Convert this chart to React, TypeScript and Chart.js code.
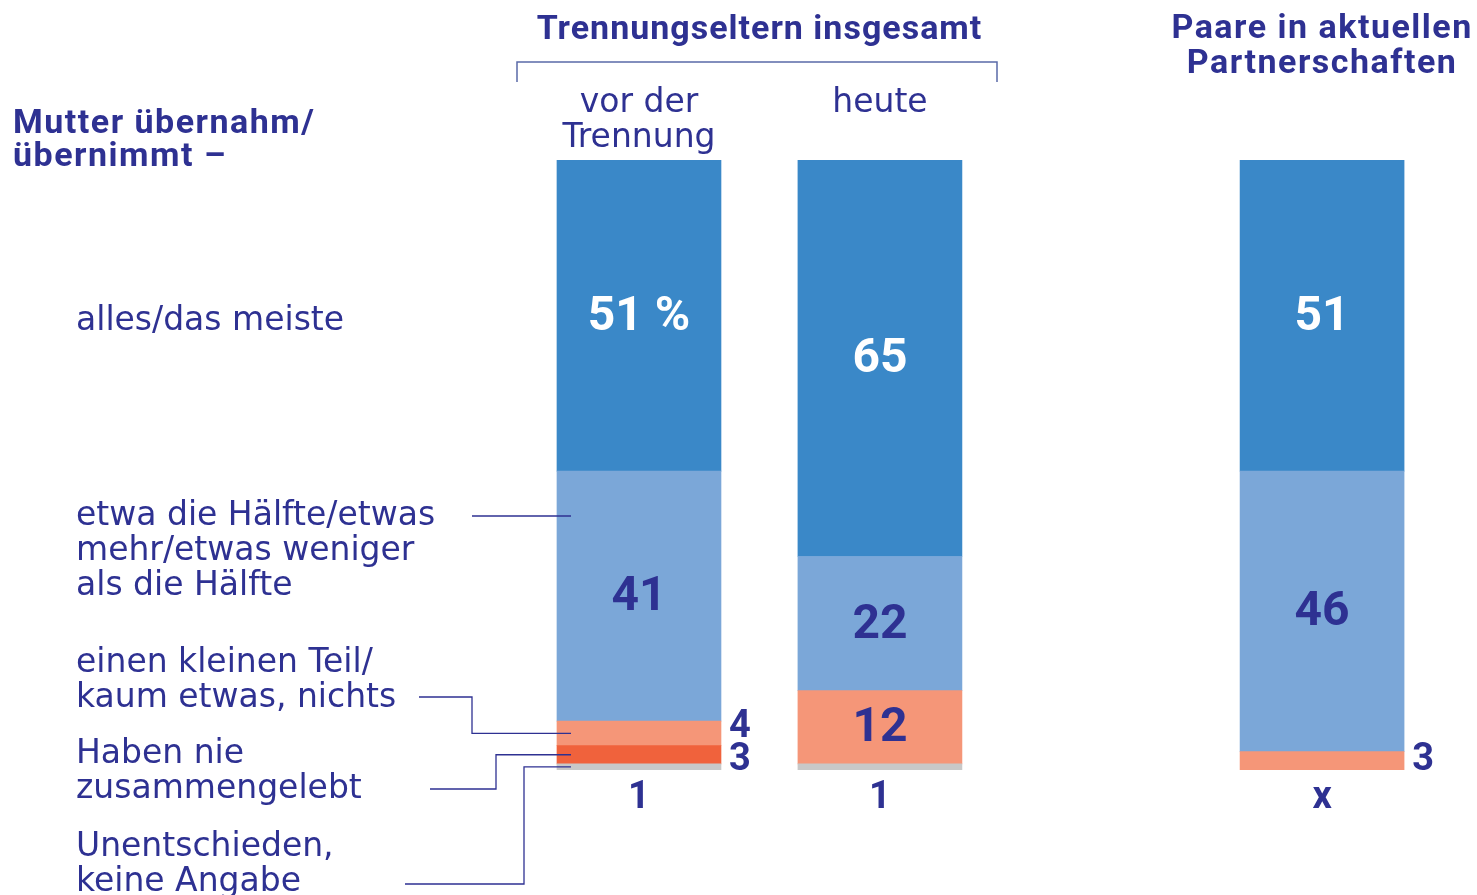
import { useEffect, useRef } from 'react';
import { Chart, registerables } from 'chart.js';

Chart.register(...registerables);

// ---------- data ----------
const groupTitles = ['Trennungseltern insgesamt', 'Paare in aktuellen|Partnerschaften'];
const columnLabels = ['vor der|Trennung', 'heute', ''];
const columnPos = [0, 1, 2.835];
const rowTitle = ['Mutter übernahm/', 'übernimmt –'];
const seriesLabels = [
  'alles/das meiste',
  'etwa die Hälfte/etwas|mehr/etwas weniger|als die Hälfte',
  'einen kleinen Teil/|kaum etwas, nichts',
  'Haben nie|zusammengelebt',
  'Unentschieden,|keine Angabe',
];
const allesMeiste = [51, 65, 51];
const etwaHaelfte = [41, 22, 46];
const kleinerTeil = [4, 12, 3];
const nieZusammen = [3, null, null];
const unentschieden = [1, 1, null];
const missingLabel = 'x';
const firstSuffix = ' %';

const NAVY = '#2e3192';
const colors = ['#3a88c8', '#7ba7d8', '#f59678', '#f0623c', '#c8c8c8'];

const FONT = '"DejaVu Sans", sans-serif';
const BOLDFONT = 'Roboto, "DejaVu Sans", sans-serif';
const NUMFONT = 'Roboto, "DejaVu Sans", sans-serif';

export default function App() {
  const ref = useRef<HTMLCanvasElement | null>(null);

  useEffect(() => {
    if (!ref.current) return;
    const seriesValues = [allesMeiste, etwaHaelfte, kleinerTeil, nieZusammen, unentschieden];
    // stack bottom-up: last series first
    const order = [4, 3, 2, 1, 0];
    const datasets = order.map((si) => ({
      label: seriesLabels[si],
      data: seriesValues[si].map((v, i) => ({ x: columnPos[i], y: v })),
      backgroundColor: colors[si],
      borderWidth: 0,
      barThickness: 164,
    }));

    const textPlugin = {
      id: 'texts',
      afterDatasetsDraw(chart: any) {
        const ctx = chart.ctx as CanvasRenderingContext2D;
        ctx.save();
        const lines = (s: string) => s.split('|');
        const drawLines = (
          s: string,
          x: number,
          y: number,
          lh: number,
          font: string,
          align: CanvasTextAlign,
          spacing = '0px'
        ) => {
          ctx.font = font;
          (ctx as any).letterSpacing = spacing;
          ctx.textAlign = align;
          ctx.textBaseline = 'alphabetic';
          ctx.fillStyle = NAVY;
          lines(s).forEach((l, k) => ctx.fillText(l, x, y + k * lh));
          (ctx as any).letterSpacing = '0px';
        };
        const xs = chart.scales.x;
        const colX = columnPos.map((p) => xs.getPixelForValue(p));

        // group titles
        drawLines(groupTitles[0], (colX[0] + colX[1]) / 2, 39, 35, `bold 34px ${BOLDFONT}`, 'center', '1px');
        drawLines(groupTitles[1], colX[2], 38, 35, `bold 34px ${BOLDFONT}`, 'center', '1.5px');
        // bracket
        ctx.strokeStyle = '#5a6aa8';
        ctx.lineWidth = 1.5;
        ctx.beginPath();
        ctx.moveTo(517, 82);
        ctx.lineTo(517, 62);
        ctx.lineTo(997, 62);
        ctx.lineTo(997, 82);
        ctx.stroke();
        // column labels
        columnLabels.forEach((c, i) => {
          if (c) drawLines(c, colX[i], 112, 35, `33px ${FONT}`, 'center');
        });
        // row title
        drawLines(rowTitle.join('|'), 13, 133, 33, `bold 34px ${BOLDFONT}`, 'left', '1.5px');

        // series labels
        const labelY = [330, 525, 672, 763, 856];
        seriesLabels.forEach((s, i) => drawLines(s, 76, labelY[i], 35, `33px ${FONT}`, 'left'));

        // leader lines
        const meta0 = (si: number) => chart.getDatasetMeta(order.indexOf(si)).data[0];
        const barLeft = (el: any) => el.x - el.width / 2;
        const mid = (el: any) => (el.y + el.base) / 2;
        ctx.strokeStyle = NAVY;
        ctx.lineWidth = 1.3;
        const path = (pts: number[][]) => {
          ctx.beginPath();
          pts.forEach((p, k) => (k ? ctx.lineTo(p[0], p[1]) : ctx.moveTo(p[0], p[1])));
          ctx.stroke();
        };
        const l1 = meta0(1);
        path([[472, 516], [barLeft(l1) + 14, 516]]);
        const e2 = meta0(2);
        path([[419, 697], [472, 697], [472, mid(e2)], [barLeft(e2) + 14, mid(e2)]]);
        const e3 = meta0(3);
        path([[430, 789], [496, 789], [496, mid(e3)], [barLeft(e3) + 14, mid(e3)]]);
        const e4 = meta0(4);
        path([[405, 884], [524, 884], [524, mid(e4)], [barLeft(e4) + 14, mid(e4)]]);

        // value labels
        ctx.textBaseline = 'middle';
        ctx.textAlign = 'center';
        columnPos.forEach((_, ci) => {
          const sideLabels: { y: number; t: string; x: number }[] = [];
          order.forEach((si, di) => {
            const v = seriesValues[si][ci];
            const el = chart.getDatasetMeta(di).data[ci];
            const cy = (el.y + el.base) / 2;
            if (si === 4) {
              ctx.font = `bold 38px ${NUMFONT}`;
              ctx.fillStyle = NAVY;
              ctx.fillText(v == null ? missingLabel : String(v), el.x, 798);
              return;
            }
            if (v == null) return;
            if (v >= 10) {
              ctx.font = `bold 48px ${NUMFONT}`;
              ctx.fillStyle = si === 0 ? '#ffffff' : NAVY;
              ctx.fillText(String(v) + (si === 0 && ci === 0 ? firstSuffix : ''), el.x, cy + 2);
            } else {
              sideLabels.push({ y: cy, t: String(v), x: el.x + el.width / 2 + 19 });
            }
          });
          sideLabels.sort((a, b) => a.y - b.y);
          for (let k = 1; k < sideLabels.length; k++) {
            const gap = sideLabels[k].y - sideLabels[k - 1].y;
            if (gap < 33) {
              const d = (33 - gap) / 2;
              sideLabels[k - 1].y -= d;
              sideLabels[k].y += d;
            }
          }
          ctx.font = `bold 38px ${NUMFONT}`;
          ctx.fillStyle = NAVY;
          sideLabels.forEach((s) => ctx.fillText(s.t, s.x, s.y));
        });
        ctx.restore();
      },
    };

    const chart = new Chart(ref.current, {
      type: 'bar',
      data: { datasets: datasets as any },
      options: {
        animation: false,
        responsive: false,
        layout: { padding: { top: 160, bottom: 125, left: 0, right: 0 } },
        plugins: { legend: { display: false }, tooltip: { enabled: false } },
        scales: {
          x: { type: 'linear', min: -2.652, max: 3.478, offset: false, stacked: true, display: false, grid: { offset: false } },
          y: { min: 0, max: 100, stacked: true, display: false },
        },
      },
      plugins: [textPlugin],
    });
    return () => chart.destroy();
  }, []);

  return (
    <div style={{ position: 'absolute', left: 0, top: 0, width: 1477, height: 895, background: '#fff' }}>
      <canvas ref={ref} width={1477} height={895} />
    </div>
  );
}
